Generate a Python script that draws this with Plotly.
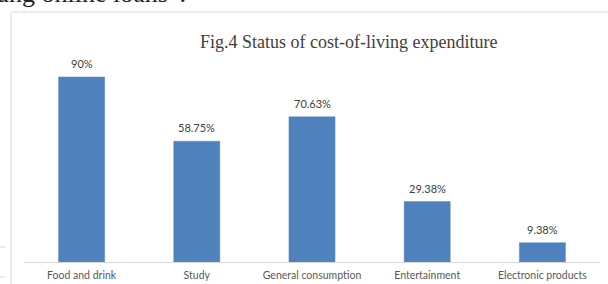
import plotly.graph_objects as go

categories = ["Food and drink", "Study", "General consumption", "Entertainment", "Electronic products"]
values = [90, 58.75, 70.63, 29.38, 9.38]
value_labels = ["90%", "58.75%", "70.63%", "29.38%", "9.38%"]
title_text = "Fig.4 Status of cost-of-living expenditure"
cutoff_text = "ung online loans\u201d."

W, H = 608, 284
L, R, T, B = 24, 8, 56, 22
PW, PH = W - L - R, H - T - B

def px(x):
    return (x - L) / PW

def py(y):
    return (H - B - y) / PH

fig = go.Figure()
fig.add_trace(go.Bar(
    x=categories, y=values,
    marker=dict(color="#4F81BD", line=dict(color="#5A8AC6", width=0.5)),
    width=0.4,
    hoverinfo="skip",
))

for c, v, t in zip(categories, values, value_labels):
    fig.add_annotation(x=c, y=v, text=t, showarrow=False, yanchor="bottom",
                       yshift=5, font=dict(family="Lato, Open Sans, sans-serif", size=11, color="#404040"))

fig.add_annotation(xref="paper", yref="paper", x=px(348), y=py(42), text=title_text,
                   showarrow=False, xanchor="center", yanchor="middle",
                   font=dict(family="Liberation Serif, Times New Roman, serif", size=18, color="#404040"))

fig.add_annotation(xref="paper", yref="paper", x=px(-6), y=py(-6), text=cutoff_text,
                   showarrow=False, xanchor="left", yanchor="middle",
                   font=dict(family="Liberation Serif, Times New Roman, serif", size=26, color="#222222"))

line_col = "#d9d9d9"
shapes = [
    dict(type="line", xref="paper", yref="paper", x0=px(11), x1=px(608), y0=py(12), y1=py(12), line=dict(color=line_col, width=1)),
    dict(type="line", xref="paper", yref="paper", x0=px(11), x1=px(11), y0=py(12), y1=py(284), line=dict(color=line_col, width=1)),
    dict(type="line", xref="paper", yref="paper", x0=px(0), x1=px(5), y0=py(247), y1=py(247), line=dict(color=line_col, width=1)),
    dict(type="line", xref="paper", yref="paper", x0=px(0), x1=px(5), y0=py(277), y1=py(277), line=dict(color=line_col, width=1)),
    dict(type="line", xref="paper", yref="paper", x0=px(24), x1=px(24), y0=py(10), y1=py(12), line=dict(color=line_col, width=1)),
]

fig.update_layout(
    width=W, height=H,
    margin=dict(l=L, r=R, t=T, b=B, pad=0, autoexpand=False),
    paper_bgcolor="white", plot_bgcolor="white",
    showlegend=False,
    shapes=shapes,
    bargap=0.6,
    xaxis=dict(showline=True, linecolor="#d9d9d9", linewidth=1, ticks="", showgrid=False,
               automargin=False, ticklabelstandoff=3,
               tickfont=dict(family="Lato, Open Sans, sans-serif", size=10.5, color="#595959"),
               fixedrange=True),
    yaxis=dict(range=[0, 100.2], visible=False, showgrid=False, fixedrange=True, automargin=False),
)

fig.write_html("out.html", config={"displayModeBar": False},
               post_script="document.body.style.margin='0';document.body.style.overflow='hidden';")
